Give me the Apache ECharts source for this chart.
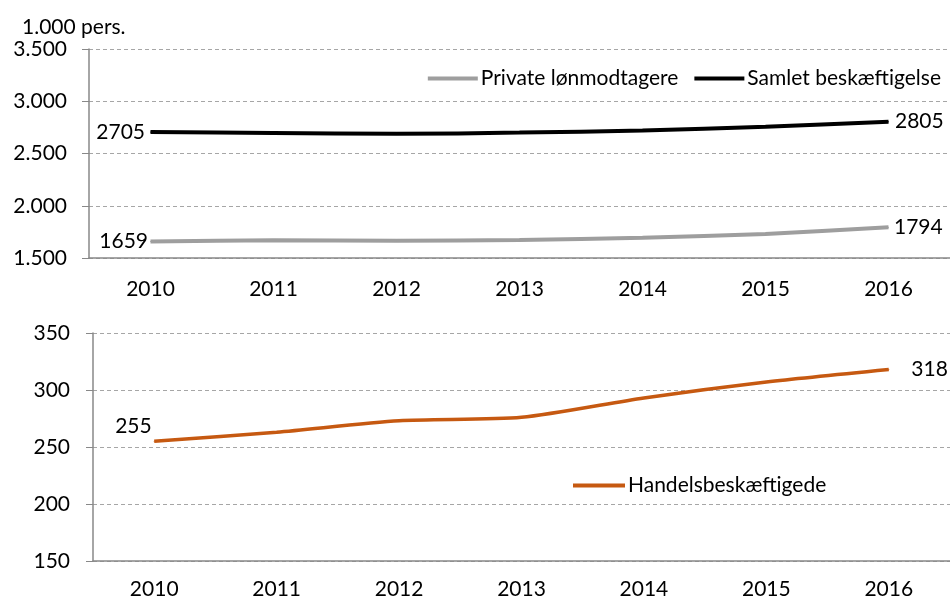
<!DOCTYPE html>
<html lang="da">
<head>
  <meta charset="utf-8">
  <title>Beskæftigelse 2010-2016</title>
  <style>
    html, body { margin: 0; padding: 0; background: #fff; }
    #chart { width: 950px; height: 602px; }
  </style>
</head>
<body>
  <div id="chart"></div>
  <script src="https://cdn.jsdelivr.net/npm/echarts@6/dist/echarts.min.js"></script>
  <script>
    var years = ['2010', '2011', '2012', '2013', '2014', '2015', '2016'];
    // 1.000 pers.
    var privateLon = [1659, 1670, 1665, 1672, 1694, 1730, 1794];
    var samlet = [2705, 2697, 2688, 2700, 2720, 2755, 2805];
    var handel = [255, 263, 273, 276, 293, 307, 318];
    var topTicks = [1500, 2000, 2500, 3000, 3500];
    var bottomTicks = [150, 200, 250, 300, 350];

    var font = 'Lato';
    var fs = 21;

    // kun første og sidste punkt får tal
    function withEndLabels(vals, firstLabel, lastLabel) {
      return vals.map(function (v, i) {
        var lbl = { show: false };
        if (i === 0) lbl = firstLabel;
        if (i === vals.length - 1) lbl = lastLabel;
        return { value: v, label: lbl };
      });
    }

    function dk(v) {
      return String(v).replace(/\B(?=(\d{3})+(?!\d))/g, '.');
    }

    var labelBase = { show: true, color: '#000', fontFamily: font, fontSize: fs };

    var chart = echarts.init(document.getElementById('chart'));
    var option = {
      animation: false,
      textStyle: { fontFamily: font },
      title: {
        text: '1.000 pers.',
        left: 17, top: 12,
        textStyle: { fontFamily: font, fontSize: fs, fontWeight: 'normal', color: '#000' }
      },
      legend: [{
        data: ['Private lønmodtagere', 'Samlet beskæftigelse'],
        right: 4, top: 63,
        icon: 'rect', itemWidth: 50, itemHeight: 4, itemGap: 16,
        textStyle: { fontFamily: font, fontSize: fs, color: '#000', padding: [0, 0, 0, -2] }
      }, {
        data: ['Handelsbeskæftigede'],
        left: 568, top: 470,
        icon: 'rect', itemWidth: 52, itemHeight: 4,
        textStyle: { fontFamily: font, fontSize: fs, color: '#000', padding: [0, 0, 0, -2] }
      }],
      grid: [
        { left: 89, top: 49, width: 868, height: 209 },
        { left: 93, top: 333, width: 870, height: 228 }
      ],
      xAxis: [0, 1].map(function (g) {
        return {
          type: 'category', gridIndex: g, data: years, boundaryGap: true,
          axisLine: { lineStyle: { color: '#888', width: 1.5 } },
          axisTick: { length: 8, lineStyle: { color: '#888', width: 1.5 } },
          axisLabel: { color: '#000', fontFamily: font, fontSize: fs, margin: g === 0 ? 21 : 18 }
        };
      }),
      yAxis: [{
        type: 'value', gridIndex: 0,
        min: topTicks[0], max: topTicks[topTicks.length - 1], interval: 500,
        axisLine: { show: true, lineStyle: { color: '#888', width: 1.5 } },
        axisTick: { show: true, length: 7, lineStyle: { color: '#888' } },
        axisLabel: { color: '#000', fontFamily: font, fontSize: fs, margin: 22, formatter: dk },
        splitLine: { lineStyle: { color: '#a6a6a6', type: [4, 3] } }
      }, {
        type: 'value', gridIndex: 1,
        min: bottomTicks[0], max: bottomTicks[bottomTicks.length - 1], interval: 50,
        axisLine: { show: true, lineStyle: { color: '#888', width: 1.5 } },
        axisTick: { show: true, length: 7, lineStyle: { color: '#888' } },
        axisLabel: { color: '#000', fontFamily: font, fontSize: fs, margin: 23 },
        splitLine: { lineStyle: { color: '#a6a6a6', type: [4, 3] } }
      }],
      series: [{
        name: 'Private lønmodtagere', type: 'line', xAxisIndex: 0, yAxisIndex: 0,
        smooth: 0.25, symbol: 'circle', symbolSize: 1,
        itemStyle: { color: '#9e9e9e' },
        lineStyle: { color: '#9e9e9e', width: 4 },
        data: withEndLabels(privateLon,
          Object.assign({}, labelBase, { position: 'left', distance: 2 }),
          Object.assign({}, labelBase, { position: 'right', distance: 5 }))
      }, {
        name: 'Samlet beskæftigelse', type: 'line', xAxisIndex: 0, yAxisIndex: 0,
        smooth: 0.25, symbol: 'circle', symbolSize: 1,
        itemStyle: { color: '#000' },
        lineStyle: { color: '#000', width: 4 },
        data: withEndLabels(samlet,
          Object.assign({}, labelBase, { position: 'left', distance: 5 }),
          Object.assign({}, labelBase, { position: 'right', distance: 6 }))
      }, {
        name: 'Handelsbeskæftigede', type: 'line', xAxisIndex: 1, yAxisIndex: 1,
        smooth: 0.25, symbol: 'circle', symbolSize: 1,
        itemStyle: { color: '#C65911' },
        lineStyle: { color: '#C65911', width: 3.5 },
        data: withEndLabels(handel,
          Object.assign({}, labelBase, { position: 'left', distance: 2, offset: [0, -15] }),
          Object.assign({}, labelBase, { position: 'right', distance: 22 }))
      }]
    };
    chart.setOption(option);
  </script>
</body>
</html>
